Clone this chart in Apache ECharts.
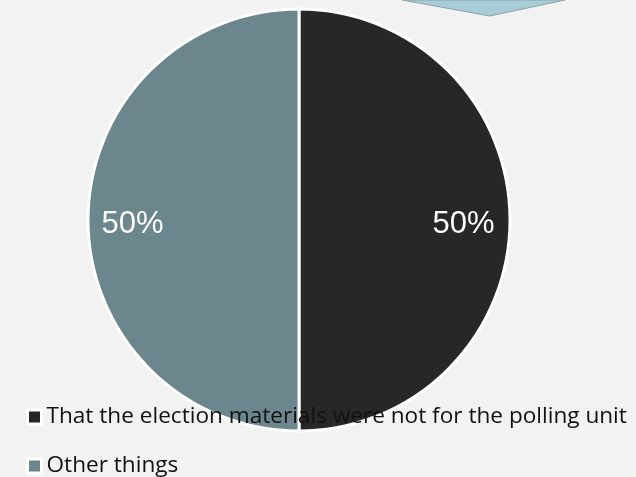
<!DOCTYPE html>
<html><head><meta charset="utf-8">
<script src="https://cdn.jsdelivr.net/npm/echarts@6/dist/echarts.min.js"></script>
<style>html,body{margin:0;padding:0;background:#f2f2f2}#c{width:636px;height:477px}</style>
</head><body><div id="c"></div>
<script>
var categories = ['That the election materials were not for the polling unit', 'Other things'];
var values = [50, 50];
var colors = ['#272727', '#6b878d'];

var chart = echarts.init(document.getElementById('c'));
var data = categories.map(function(n,i){return {name:n, value:values[i], itemStyle:{color:colors[i]}};});
var labelData = categories.map(function(n,i){return {name:n, value:values[i]};});
var legendTops = [404, 453];
var legends = categories.map(function(n,i){
  return {
    orient:'vertical', left:26, top:legendTops[i], itemWidth:14, itemHeight:14, itemGap:7,
    icon:'rect', padding:0,
    data:[{name:n, itemStyle:{color:colors[i], borderColor:'#fff', borderWidth:3}}],
    textStyle:{fontFamily:'Open Sans', fontSize:22.6, color:'#111', lineHeight:26},
    selectedMode:false
  };
});
chart.setOption({
  backgroundColor:'#f2f2f2',
  animation:false,
  graphic:[{type:'polygon', shape:{points:[[402,0],[490,16],[565,0]]}, style:{fill:'#a8ccd8', stroke:'#8ea3a8', lineWidth:1}, z:10}],
  legend:legends,
  series:[
    {type:'pie', center:[299,220], radius:[0,211], startAngle:90, clockwise:true,
     itemStyle:{borderColor:'#fff', borderWidth:3}, label:{show:false}, labelLine:{show:false},
     data:data, silent:true, z:1},
    {type:'pie', center:[298,224], radius:[114,211], startAngle:90, clockwise:true,
     itemStyle:{color:'rgba(0,0,0,0)', borderWidth:0},
     label:{show:true, position:'inside', formatter:'{d}%', color:'#fff', fontFamily:'Liberation Sans', fontSize:31},
     labelLine:{show:false}, data:labelData, silent:true, z:2}
  ]
});
</script></body></html>
